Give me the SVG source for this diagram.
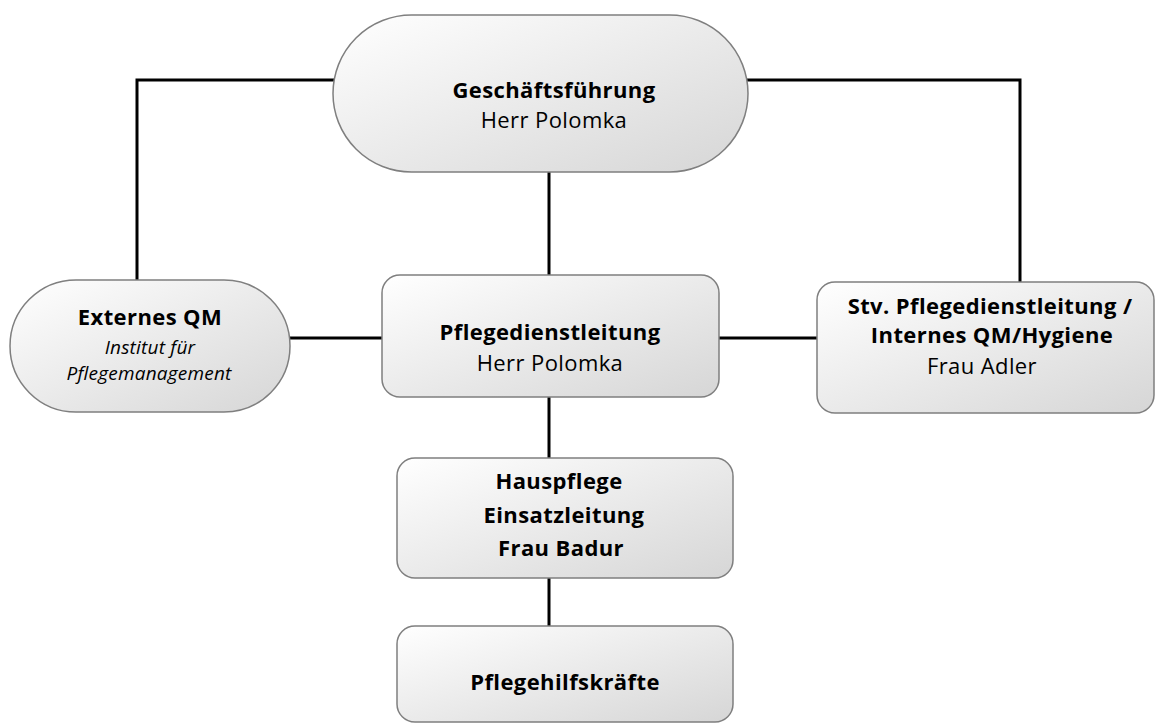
<svg xmlns="http://www.w3.org/2000/svg" width="1156" height="726" viewBox="0 0 1156 726">
<defs>
<linearGradient id="g" x1="0" y1="0" x2="1" y2="1">
<stop offset="0" stop-color="#ffffff"/>
<stop offset="1" stop-color="#d6d6d6"/>
</linearGradient>
<style>
.n{fill:url(#g);stroke:#7f7f7f;stroke-width:1.5}
.c{fill:none;stroke:#000;stroke-width:3}
text{font-family:"Open Sans","Noto Sans",sans-serif;fill:#000;text-anchor:middle}
.b{font-weight:bold;font-size:22px;letter-spacing:0.4px}
.r{font-size:22px;letter-spacing:0.4px}
.i{font-style:italic;font-size:19px;letter-spacing:0.2px}
</style>
</defs>
<rect width="1156" height="726" fill="#fff"/>
<g id="connectors">
<polyline class="c" points="334,80 137,80 137,281"/>
<polyline class="c" points="747,80 1020,80 1020,283"/>
<line class="c" x1="549" y1="172" x2="549" y2="276"/>
<line class="c" x1="290" y1="338" x2="383" y2="338"/>
<line class="c" x1="718" y1="338" x2="818" y2="338"/>
<line class="c" x1="549" y1="397" x2="549" y2="459"/>
<line class="c" x1="549" y1="578" x2="549" y2="627"/>
</g>
<g id="geschaeftsfuehrung">
<rect class="n" x="333" y="15" width="415" height="157" rx="78.5"/>
<text class="b" x="554" y="98">Geschäftsführung</text>
<text class="r" x="554" y="128">Herr Polomka</text>
</g>
<g id="externes-qm">
<rect class="n" x="10" y="280" width="280" height="132" rx="66"/>
<text class="b" x="150" y="325">Externes QM</text>
<text class="i" x="150" y="354">Institut für</text>
<text class="i" x="149" y="380">Pflegemanagement</text>
</g>
<g id="pflegedienstleitung">
<rect class="n" x="382" y="275" width="337" height="122" rx="18"/>
<text class="b" x="550" y="340">Pflegedienstleitung</text>
<text class="r" x="550" y="371">Herr Polomka</text>
</g>
<g id="stv-pdl">
<rect class="n" x="817" y="282" width="337" height="131" rx="18"/>
<text class="b" x="990" y="314">Stv. Pflegedienstleitung /</text>
<text class="b" x="992" y="343">Internes QM/Hygiene</text>
<text class="r" x="982" y="374">Frau Adler</text>
</g>
<g id="hauspflege">
<rect class="n" x="397" y="458" width="336" height="120" rx="18"/>
<text class="b" x="559" y="489">Hauspflege</text>
<text class="b" x="564" y="523">Einsatzleitung</text>
<text class="b" x="561" y="556">Frau Badur</text>
</g>
<g id="pflegehilfskraefte">
<rect class="n" x="397" y="626" width="336" height="96" rx="18"/>
<text class="b" x="565" y="690">Pflegehilfskräfte</text>
</g>
</svg>
